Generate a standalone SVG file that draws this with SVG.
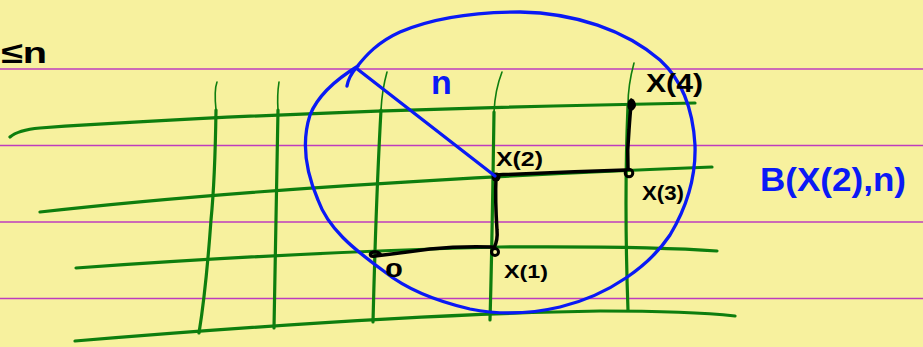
<svg xmlns="http://www.w3.org/2000/svg" width="923" height="347" viewBox="0 0 923 347">
<style>
.rule{stroke:#BE3CBE;stroke-width:1.6;fill:none}
.g{stroke:#0E7E0E;stroke-width:3.2;fill:none;stroke-linecap:round;stroke-linejoin:round}
.gt{stroke:#0E7E0E;stroke-width:1.6;fill:none;stroke-linecap:round}
.k{stroke:#000;stroke-width:3.5;fill:none;stroke-linecap:round;stroke-linejoin:round}
.b{stroke:#0A1AF5;stroke-width:3.3;fill:none;stroke-linecap:round;stroke-linejoin:round}
.t{font-family:"Liberation Sans",Arial,sans-serif;font-weight:bold}
.tk{fill:#000}
.tb{fill:#0A1AF5}
</style>
<rect width="923" height="347" fill="#F7F19E"/>
<g id="rules">
<line class="rule" x1="0" y1="69" x2="923" y2="69"/>
<line class="rule" x1="0" y1="145.5" x2="923" y2="145.5"/>
<line class="rule" x1="0" y1="222" x2="923" y2="222"/>
<line class="rule" x1="0" y1="298.5" x2="923" y2="298.5"/>
</g>
<g id="grid">
<path class="g" d="M10,137 Q18,130 40,128 Q300,110 695,103"/>
<path class="g" d="M40,212 Q300,183 712,167"/>
<path class="g" d="M76,268 Q300,252 500,247 Q650,246 717,251"/>
<path class="g" d="M75,341 Q400,314 600,311 Q690,311 735,316"/>
<path class="gt" d="M217,82 Q214,90 216,110"/>
<path class="g" d="M216,110 Q215,180 211,220 Q206,290 199,333"/>
<path class="gt" d="M279,82 Q277,95 278,110"/>
<path class="g" d="M278,110 Q276,220 274,328"/>
<path class="gt" d="M387,72 Q382,90 381,110"/>
<path class="g" d="M381,110 Q376,200 373,322"/>
<path class="gt" d="M502,72 Q495,90 494,112"/>
<path class="g" d="M494,112 Q492,250 490,320"/>
<path class="gt" d="M634,63 Q628,85 628,105"/>
<path class="g" d="M628,105 Q624,200 628,310"/>
</g>
<g id="path">
<path class="k" d="M380,254 Q376,250 371,253 Q369,257 375,256 Q400,253 430,249 Q460,246 492,247"/>
<circle cx="495" cy="252" r="3.5" fill="none" stroke="#000" stroke-width="3"/>
<path class="k" d="M494,248 Q498,240 497,230 Q495,200 496,177"/>
<circle cx="496" cy="177" r="4.5" fill="#000"/>
<path class="k" d="M496,175 Q560,172 626,170"/>
<circle cx="629" cy="173" r="3.8" fill="none" stroke="#000" stroke-width="3"/>
<path class="k" d="M628,169 Q627,150 629,130 Q630,115 631,105"/>
<path d="M631,98 Q636,100 636,106 Q634,111 630,111 Q626,108 628,101 Z" fill="#000"/>
</g>
<g id="ball">
<path class="b" d="M347,86 C348,80 351,74 356,68 C366,55 378,42 400,32 C435,17 480,12 520,12 C575,13 625,30 660,60 C682,80 693,110 695,145 C696,175 688,205 670,235 C650,265 610,295 560,307 C530,314 500,315 470,309 C440,302 410,292 385,272 C352,248 328,228 318,200 C305,170 302,140 310,115 C318,95 335,80 358,66"/>
<path class="b" d="M356,68 L495,176"/>
</g>
<g id="labels">
<text class="t tk" x="1" y="63" font-size="30" textLength="46" lengthAdjust="spacingAndGlyphs">≤n</text>
<text class="t tb" x="431" y="94" font-size="34">n</text>
<text class="t tk" x="646" y="92" font-size="26" textLength="57" lengthAdjust="spacingAndGlyphs">X(4)</text>
<text class="t tk" x="496" y="166" font-size="20" textLength="47" lengthAdjust="spacingAndGlyphs">X(2)</text>
<text class="t tk" x="642" y="200" font-size="20" textLength="42" lengthAdjust="spacingAndGlyphs">X(3)</text>
<text class="t tk" x="385" y="277" font-size="20" textLength="18" lengthAdjust="spacingAndGlyphs">0</text>
<text class="t tk" x="504" y="278" font-size="19" textLength="44" lengthAdjust="spacingAndGlyphs">X(1)</text>
<text class="t tb" x="760" y="191" font-size="34" textLength="146" lengthAdjust="spacingAndGlyphs">B(X(2),n)</text>
</g>
</svg>
